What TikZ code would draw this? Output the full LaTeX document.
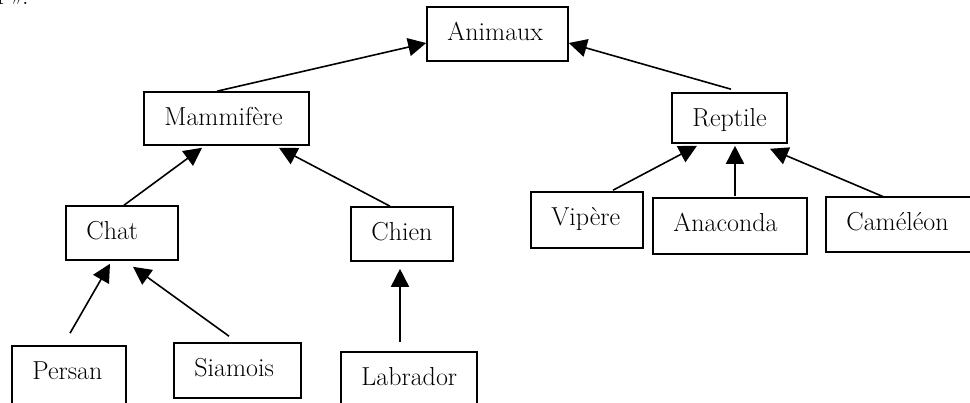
\documentclass[tikz,border=0pt]{standalone}
\usetikzlibrary{arrows.meta,fit}
\begin{document}
\begin{tikzpicture}[x=1pt,y=-1pt,
  frame/.style={draw=black,line width=1.6pt,inner sep=0pt,fill=none},
  lbl/.style={anchor=base west,inner sep=0pt,font=\fontsize{26}{30}\selectfont},
  arr/.style={line width=1.6pt,-{Triangle[length=18pt,width=18pt]}}]
\useasboundingbox (0,0) rectangle (970,403);
\fill[white] (0,0) rectangle (970,403);

% box: name, corner, corner, text
\newcommand\classbox[4]{%
  \path #2 coordinate (#1-a) #3 coordinate (#1-b);
  \node[frame,fit=(#1-a)(#1-b)] (#1) {};
  \node[lbl] (#1-t) at ([shift={(21,34)}]#1.north west) {#4};}

% end of the preceding line of text
\node[lbl] (prev) at (-3,5) {r\,».};

\classbox{animaux}{(427,7)}{(568,61)}{Animaux}
\classbox{mammifere}{(144,92)}{(309,145)}{Mammifère}
\classbox{reptile}{(672,93)}{(787,143)}{Reptile}
\classbox{chat}{(66,206)}{(178,260)}{Chat}
\classbox{chien}{(351,207)}{(453,261)}{Chien}
\classbox{persan}{(12,346)}{(126,412)}{Persan}
\classbox{siamois}{(174,343)}{(301,398)}{Siamois}
\classbox{labrador}{(341,352)}{(477,412)}{Labrador}
\classbox{vipere}{(531,192)}{(643,248)}{Vipère}
\classbox{anaconda}{(653,198)}{(807,254)}{Anaconda}
\classbox{cameleon}{(826,197)}{(978,252)}{Caméléon}

% inheritance arrows
\draw[arr] ([shift={(-9.5,0)}]mammifere.north) -- ([shift={(0,9)}]animaux.west);
\draw[arr] ([shift={(1.5,-3)}]reptile.north) -- ([shift={(0,9)}]animaux.east);
\draw[arr] ([shift={(2,0)}]chat.north) -- ([shift={(-24.5,2)}]mammifere.south);
\draw[arr] ([shift={(-12,0)}]chien.north) -- ([shift={(52.5,2)}]mammifere.south);
\draw[arr] ([shift={(1,-12)}]persan.north) -- ([shift={(-12,3)}]chat.south);
\draw[arr] ([shift={(-8.5,-6)}]siamois.north) -- ([shift={(11,6)}]chat.south);
\draw[arr] ([shift={(-9,-9)}]labrador.north) -- ([shift={(-2,7)}]chien.south);
\draw[arr] ([shift={(26,-1)}]vipere.north) -- ([shift={(-32.5,2)}]reptile.south);
\draw[arr] ([shift={(5,-1)}]anaconda.north) -- ([shift={(5.5,2)}]reptile.south);
\draw[arr] ([shift={(-17.5,1)}]cameleon.north) -- ([shift={(40.5,5)}]reptile.south);
\end{tikzpicture}
\end{document}
